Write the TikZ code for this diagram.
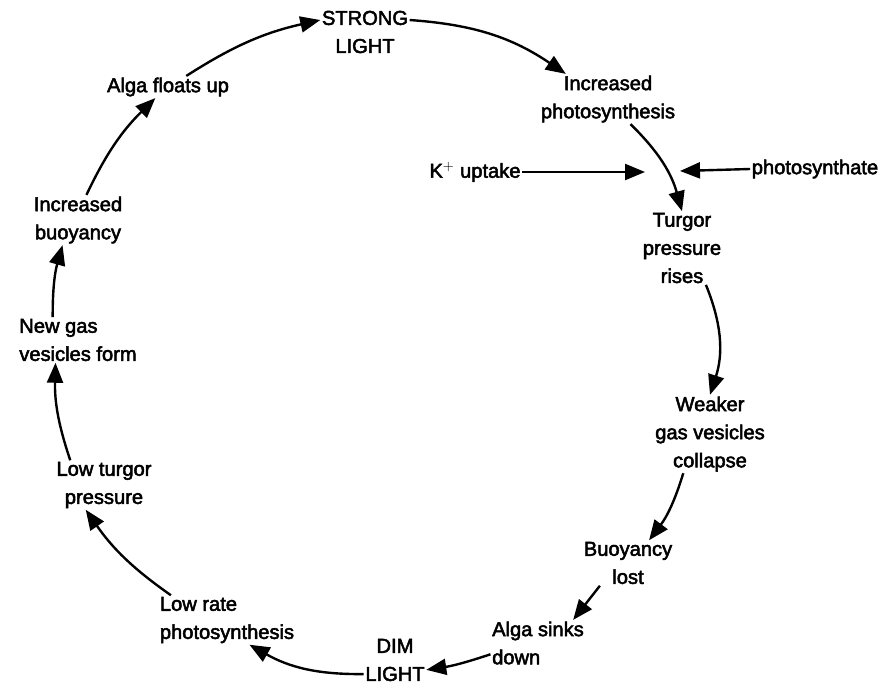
\documentclass[tikz,border=0pt]{standalone}
\usepackage{fontspec}
\setmainfont{Liberation Sans}
\newfontfamily\lblfont{Liberation Sans}[FakeBold=2.5]
\usetikzlibrary{positioning, arrows.meta}

\begin{document}
\begin{tikzpicture}[x=0.025cm, y=-0.025cm,
    lbl/.style={inner sep=1pt, font=\lblfont\fontsize{14.3}{20}\selectfont, align=center},
    lbll/.style={lbl, align=left},
    arr/.style={line width=1.7pt, -{Triangle[length=5mm, width=4mm]}}]
    \useasboundingbox (0,0) rectangle (887,691);

    \node[lbl] (strong) at (365,32) {STRONG\\LIGHT};
    \node[lbl] (photo) at (608,99) {Increased\\photosynthesis};
    \node[lbl] (kplus) at (475,172) {K$^{+}$ uptake};
    \node[lbl] (synthate) at (815,169) {photosynthate};
    \node[lbl] (turgor) at (682,248) {Turgor\\pressure\\rises};
    \node[lbl] (weaker) at (710,434) {Weaker\\gas vesicles\\collapse};
    \node[lbl] (lost) at (628,563) {Buoyancy\\lost};
    \node[lbll] (sinks) at (538,643) {Alga sinks\\down};
    \node[lbl] (dim) at (395,660) {DIM\\LIGHT};
    \node[lbll] (lowrate) at (227,620) {Low rate\\photosynthesis};
    \node[lbl] (lowturgor) at (104,485) {Low turgor\\pressure};
    \node[lbll] (newgas) at (78,340) {New gas\\vesicles form};
    \node[lbl] (incbuoy) at (78,220) {Increased\\buoyancy};
    \node[lbl] (floats) at (168,87) {Alga floats up};

    \coordinate (kend) at (645,172);
    \coordinate (pend) at (680,171);

    \draw[arr] ([xshift=13pt]floats.north) to[bend left=10] (strong.165);
    \draw[arr] (strong.15) to[bend left=15] ([xshift=-30pt]photo.north);
    \draw[arr] ([xshift=16pt]photo.south) to[bend left=15] (turgor.north);
    \draw[arr] (kplus.east) -- (kend);
    \draw[arr] (synthate.west) -- (pend);
    \draw[arr] ([xshift=17pt]turgor.south) to[bend left=20] (weaker.north);
    \draw[arr] ([xshift=-19pt]weaker.south) to[bend left=10] ([xshift=15pt]lost.north);
    \draw[arr] ([xshift=-20pt]lost.south) -- ([xshift=25pt]sinks.north);
    \draw[arr] ([yshift=-8pt]sinks.west) to[bend left=5] ([yshift=-7pt]dim.east);
    \draw[arr] ([yshift=-10pt]dim.west) to[bend left=15] ([xshift=16pt]lowrate.south);
    \draw[arr] ([xshift=9pt]lowrate.north west) to[bend left=10] ([xshift=-13pt]lowturgor.south);
    \draw[arr] ([xshift=-24pt]lowturgor.north) to[bend left=10] ([xshift=-16pt]newgas.south);
    \draw[arr] ([xshift=-18pt]newgas.north) to[bend left=8] ([xshift=-11pt]incbuoy.south);
    \draw[arr] ([xshift=6pt]incbuoy.north) to[bend left=10] ([xshift=-9pt]floats.south);
\end{tikzpicture}
\end{document}
